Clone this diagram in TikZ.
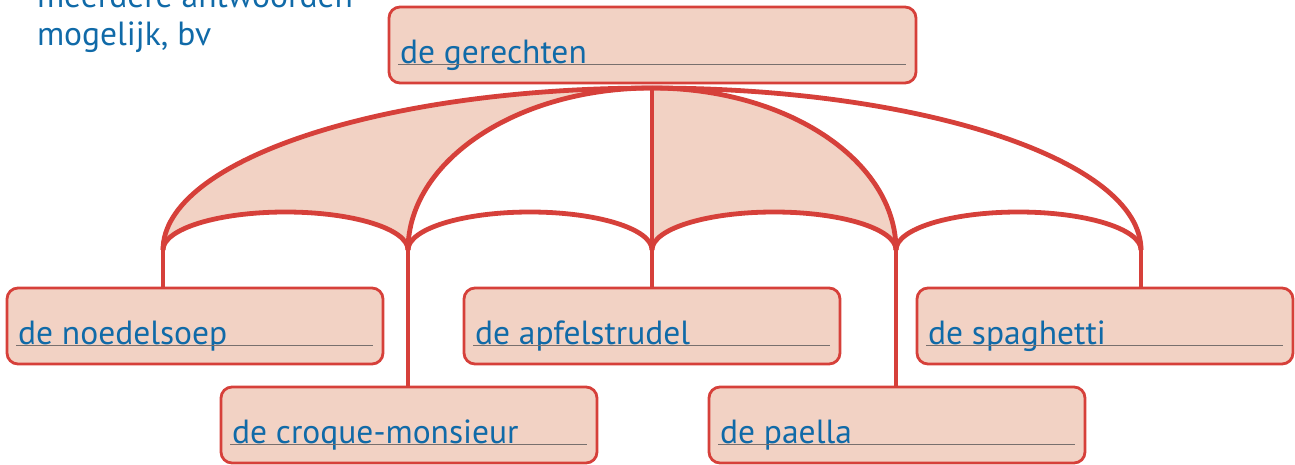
\documentclass[tikz,border=0pt]{standalone}
\usepackage{fontspec}
\setmainfont{PT Sans}
\usetikzlibrary{calc}
\definecolor{wred}{RGB}{214,64,58}
\definecolor{wfill}{RGB}{242,210,196}
\definecolor{wblue}{RGB}{16,106,168}
\definecolor{wgray}{RGB}{120,112,110}
\tikzset{
  wbox/.style={draw=wred, fill=wfill, line width=2.8pt, rounded corners=11pt,
    minimum width=376pt, minimum height=76pt, inner sep=0pt, outer sep=0pt},
  wtext/.style={text=wblue, font=\fontsize{33.5}{40}\selectfont, inner sep=0pt, outer sep=0pt},
  uline/.style={draw=wgray, line width=1.5pt},
  conn/.style={draw=wred, line width=4.8pt},
  shade/.style={fill=wfill}
}
\newcommand{\wordbox}[5]{% name, x, y, width, text
  \node[wbox, minimum width=#4pt, anchor=north west] (#1) at (#2,#3) {};
  \node[wtext, anchor=base west] (#1t) at ($(#1.south west)+(11,-19.5)$) {#5};
  \draw[uline] ($(#1.south west)+(9,-18.5)$) -- ($(#1.south east)+(-10,-18.5)$);
}
\begin{document}
\begin{tikzpicture}[x=1pt,y=-1pt]
\useasboundingbox (0,0) rectangle (1295,464);
% instruction text (partly cut by top edge, as in the reference)
\node[wtext, anchor=base west, align=left] (note1) at (37,7) {meerdere antwoorden};
\node[wtext, anchor=base west, align=left] (note2) at (37,45) {mogelijk, bv};
% junction coordinates
\coordinate (top) at (652,88);
\coordinate (j1) at (163,250);
\coordinate (j2) at (408,250);
\coordinate (j3) at (652,250);
\coordinate (j4) at (896,250);
\coordinate (j5) at (1141,250);
% shaded wedges
\fill[shade] (top) arc[start angle=270,end angle=180,x radius=489,y radius=162]
  arc[start angle=180,end angle=360,x radius=122.5,y radius=38]
  arc[start angle=180,end angle=270,x radius=244,y radius=162] -- cycle;
\fill[shade] (top) -- (j3)
  arc[start angle=180,end angle=360,x radius=122,y radius=38]
  arc[start angle=360,end angle=270,x radius=244,y radius=162] -- cycle;
% boxes
\wordbox{ger}{389}{7}{527}{de gerechten}
\wordbox{noe}{7}{288}{376}{de noedelsoep}
\wordbox{cro}{221}{387}{376}{de croque-monsieur}
\wordbox{apf}{464}{288}{376}{de apfelstrudel}
\wordbox{pae}{709}{387}{376}{de paella}
\wordbox{spa}{917}{288}{376}{de spaghetti}
% big connectors from the top
\draw[conn] (top) arc[start angle=270,end angle=180,x radius=489,y radius=162];
\draw[conn] (top) arc[start angle=270,end angle=180,x radius=244,y radius=162];
\draw[conn] (top) -- (j3);
\draw[conn] (top) arc[start angle=270,end angle=360,x radius=244,y radius=162];
\draw[conn] (top) arc[start angle=270,end angle=360,x radius=489,y radius=162];
% small arcs between junctions
\draw[conn] (j1) arc[start angle=180,end angle=360,x radius=122.5,y radius=38];
\draw[conn] (j2) arc[start angle=180,end angle=360,x radius=122,y radius=38];
\draw[conn] (j3) arc[start angle=180,end angle=360,x radius=122,y radius=38];
\draw[conn] (j4) arc[start angle=180,end angle=360,x radius=122.5,y radius=38];
% verticals to boxes
\draw[conn] (j1) -- (j1 |- noe.north);
\draw[conn] (j2) -- (j2 |- cro.north);
\draw[conn] (j3) -- (j3 |- apf.north);
\draw[conn] (j4) -- (j4 |- pae.north);
\draw[conn] (j5) -- (j5 |- spa.north);
\end{tikzpicture}
\end{document}
